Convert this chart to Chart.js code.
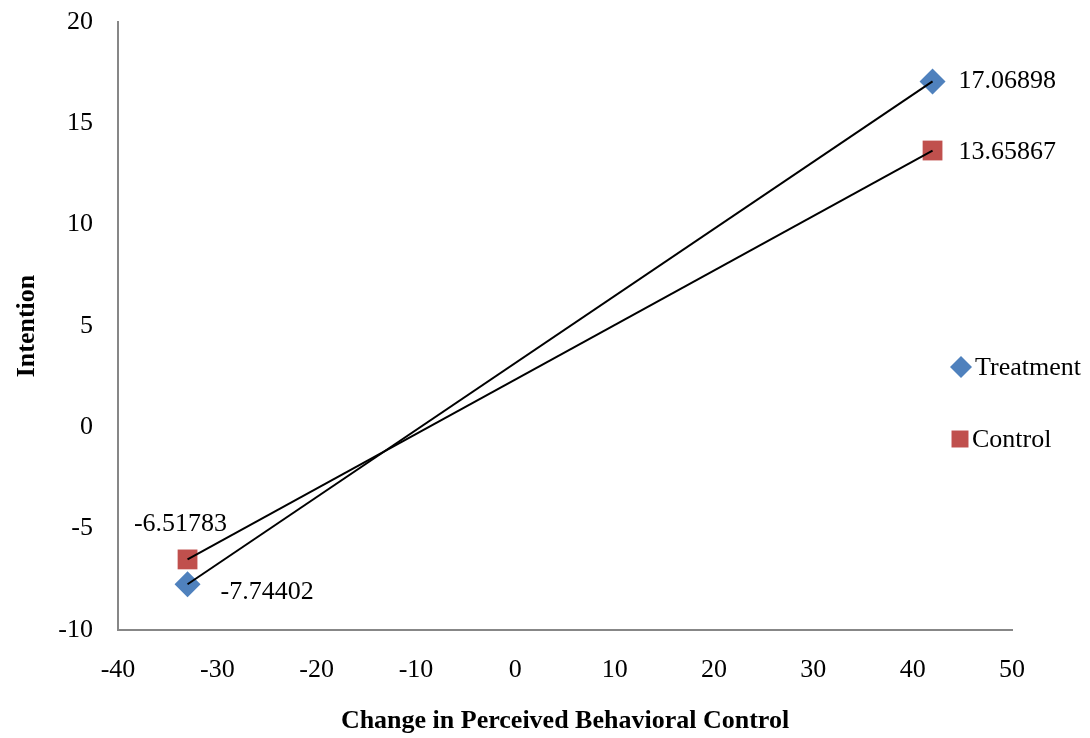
<!DOCTYPE html>
<html>
<head>
<meta charset="utf-8">
<script src="https://cdn.jsdelivr.net/npm/chart.js@4/dist/chart.umd.min.js"></script>
<style>
  html, body { margin: 0; padding: 0; background: #fff; }
  #wrap { width: 1090px; height: 738px; }
</style>
</head>
<body>
<div id="wrap"><canvas id="grafico"></canvas></div>
<script>
// Datos
const cambioPBC = [-33, 42];
const tratamiento = [-7.74402, 17.06898];
const control = [-6.51783, 13.65867];
const series = ["Treatment", "Control"];

const fuente = "'Liberation Serif', 'Times New Roman', serif";

function puntos(xs, ys) {
    return xs.map((x, i) => ({ x: x, y: ys[i] }));
}

// Etiquetas de valores junto a cada punto (desplazamientos en píxeles)
const etiquetasPlugin = {
    id: "etiquetas",
    afterDatasetsDraw(chart) {
        const ctx = chart.ctx;
        const desplazamientos = {
            0: [[33, 8, "left"], [26, 0, "left"]],
            1: [[-7, -35, "center"], [26, 2, "left"]]
        };
        ctx.save();
        ctx.font = "26px " + fuente;
        ctx.fillStyle = "#000";
        ctx.textBaseline = "middle";
        [0, 1].forEach(di => {
            const meta = chart.getDatasetMeta(di);
            meta.data.forEach((pt, i) => {
                const [dx, dy, al] = desplazamientos[di][i];
                ctx.textAlign = al;
                ctx.fillText(String(chart.data.datasets[di].data[i].y), pt.x + dx, pt.y + dy);
            });
        });
        ctx.restore();
    }
};

// Leyenda a la derecha
const leyendaPlugin = {
    id: "leyenda",
    afterDraw(chart) {
        const ctx = chart.ctx;
        const filas = [
            { y: 367, mx: 961, tx: 975, estilo: "rectRot", r: 11 },
            { y: 439, mx: 960, tx: 972, estilo: "rect", r: 12 }
        ];
        ctx.save();
        ctx.font = "26px " + fuente;
        ctx.textBaseline = "middle";
        ctx.textAlign = "left";
        filas.forEach((f, i) => {
            const ds = chart.data.datasets[i];
            ctx.fillStyle = ds.backgroundColor;
            ctx.strokeStyle = ds.backgroundColor;
            Chart.helpers.drawPoint(ctx, { pointStyle: f.estilo, radius: f.r, borderWidth: 0 }, f.mx, f.y);
            ctx.fillStyle = "#000";
            ctx.fillText(series[i], f.tx, f.y + 1);
        });
        ctx.restore();
    }
};

const ctx = document.getElementById("grafico").getContext("2d");
const chart = new Chart(ctx, {
    type: "scatter",
    data: {
        datasets: [
            {
                label: series[0],
                data: puntos(cambioPBC, tratamiento),
                pointStyle: "rectRot",
                pointRadius: 13,
                backgroundColor: "#4F81BD",
                borderColor: "#4F81BD",
                borderWidth: 0,
                showLine: false,
                order: 2
            },
            {
                label: series[1],
                data: puntos(cambioPBC, control),
                pointStyle: "rect",
                pointRadius: 14,
                backgroundColor: "#C0504D",
                borderColor: "#C0504D",
                borderWidth: 0,
                showLine: false,
                order: 2
            },
            {
                label: "Treatment trend",
                data: puntos(cambioPBC, tratamiento),
                showLine: true,
                pointRadius: 0,
                borderColor: "#000",
                borderWidth: 2,
                order: 1
            },
            {
                label: "Control trend",
                data: puntos(cambioPBC, control),
                showLine: true,
                pointRadius: 0,
                borderColor: "#000",
                borderWidth: 2,
                order: 1
            }
        ]
    },
    options: {
        responsive: true,
        maintainAspectRatio: false,
        animation: false,
        layout: { padding: { top: 22, right: 78, bottom: 0, left: 0 } },
        plugins: {
            legend: { display: false },
            tooltip: { enabled: false }
        },
        scales: {
            x: {
                type: "linear",
                min: -40,
                max: 50,
                ticks: {
                    stepSize: 10,
                    padding: 25,
                    color: "#000",
                    font: { family: fuente, size: 26 }
                },
                grid: { drawOnChartArea: false, drawTicks: false },
                border: { display: true, color: "#878787", width: 2 },
                title: {
                    display: true,
                    text: "Change in Perceived Behavioral Control",
                    color: "#000",
                    font: { family: fuente, size: 26, weight: "bold" },
                    padding: { top: 0, bottom: 1 }
                },
                afterFit(s) { s.height = 108; s.paddingLeft = 0; s.paddingRight = 0; }
            },
            y: {
                type: "linear",
                min: -10,
                max: 20,
                ticks: {
                    stepSize: 5,
                    padding: 25,
                    color: "#000",
                    font: { family: fuente, size: 26 }
                },
                grid: { drawOnChartArea: false, drawTicks: false },
                border: { display: true, color: "#878787", width: 2 },
                title: {
                    display: true,
                    text: "Intention",
                    color: "#000",
                    font: { family: fuente, size: 26, weight: "bold" },
                    padding: { top: 12, bottom: 0 }
                },
                afterFit(s) { s.width = 118; s.paddingTop = 0; s.paddingBottom = 0; }
            }
        }
    },
    plugins: [etiquetasPlugin, leyendaPlugin]
});
</script>
</body>
</html>
